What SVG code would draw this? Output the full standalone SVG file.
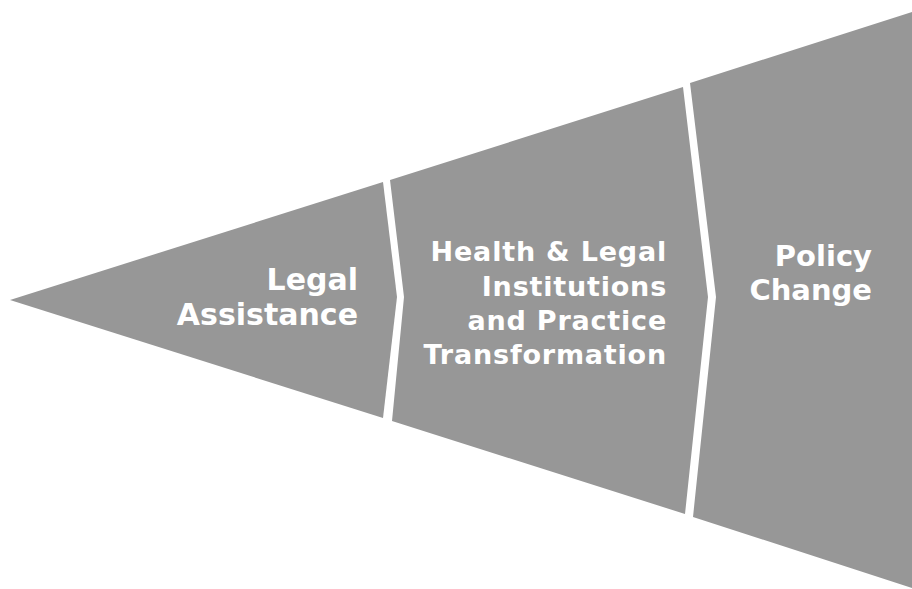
<svg xmlns="http://www.w3.org/2000/svg" width="912" height="589" viewBox="0 0 912 589">
  <style>
    .seg { fill: #979797; }
    .lbl { fill: #ffffff; font-family: "DejaVu Sans", Verdana, sans-serif; font-weight: bold; text-anchor: end; }
    .l1 { font-size: 30px; }
    .l2 { font-size: 27px; letter-spacing: 0.8px; }
    .l3 { font-size: 29px; }
  </style>
  <rect width="912" height="589" fill="#ffffff"/>
  <g id="legal-assistance">
    <polygon class="seg" points="10,300 383,182 397,297 383,418"/>
    <text class="lbl l1" x="358" y="290">Legal</text>
    <text class="lbl l1" x="358" y="325">Assistance</text>
  </g>
  <g id="institutions-transformation">
    <polygon class="seg" points="390,180 683,87 708,297 685,514 392,421 404,297"/>
    <text class="lbl l2" x="667" y="261">Health &amp; Legal</text>
    <text class="lbl l2" x="667" y="296">Institutions</text>
    <text class="lbl l2" x="667" y="330">and Practice</text>
    <text class="lbl l2" x="667" y="364">Transformation</text>
  </g>
  <g id="policy-change">
    <polygon class="seg" points="690,83 912,12 912,588 693,517 716,297"/>
    <text class="lbl l3" x="872" y="266">Policy</text>
    <text class="lbl l3" x="872" y="300">Change</text>
  </g>
  <g id="connectors"/>
</svg>
